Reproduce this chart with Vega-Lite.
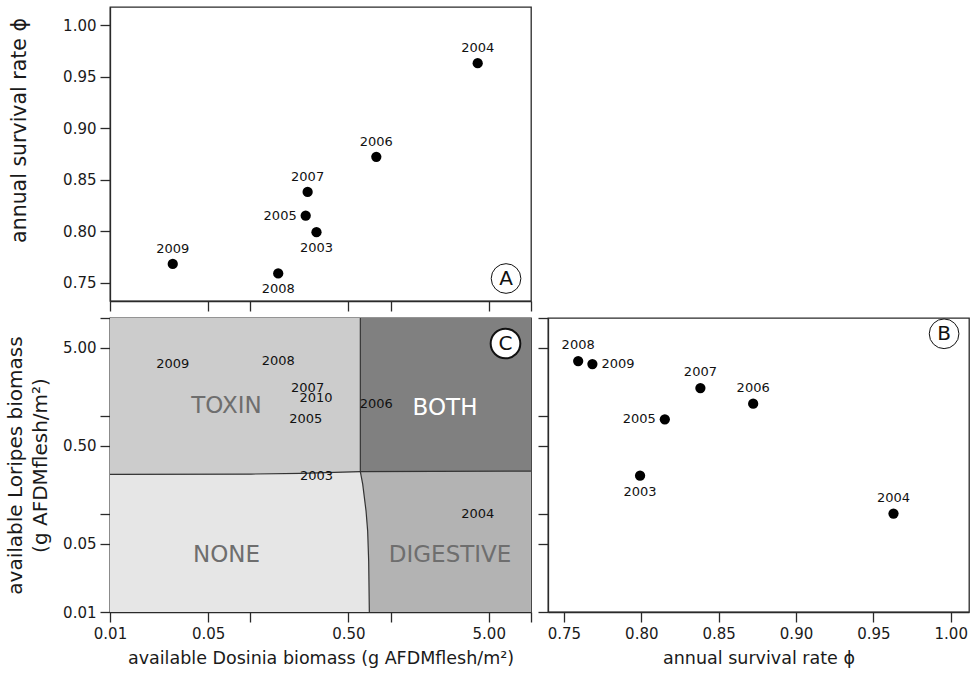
{
  "$schema": "https://vega.github.io/schema/vega-lite/v6.json",
  "padding": {"left": 4, "top": 6, "right": 4, "bottom": 4},
  "background": "white",
  "config": {
    "font": "DejaVu Sans",
    "view": {"stroke": "#2a2a2a", "strokeWidth": 1.3},
    "axis": {
      "grid": false,
      "domainColor": "#2a2a2a", "domainWidth": 1.3,
      "tickColor": "#2a2a2a", "tickWidth": 1.3, "tickSize": 10,
      "labelFont": "DejaVu Sans", "labelFontSize": 15, "labelColor": "#1a1a1a",
      "labelPadding": 4, "labelFlush": false, "labelOverlap": false,
      "titleFont": "DejaVu Sans", "titleFontWeight": "normal", "titleColor": "#1a1a1a", "titleFontSize": 17.5
    },
    "text": {"font": "DejaVu Sans"}
  },
  "datasets": {
    "years": [
      {"year": "2003", "D": 0.296, "L": 0.246, "phi": 0.7992},
      {"year": "2004", "D": 4.17, "L": 0.101, "phi": 0.963},
      {"year": "2005", "D": 0.248, "L": 0.926, "phi": 0.8152},
      {"year": "2006", "D": 0.79, "L": 1.336, "phi": 0.8723},
      {"year": "2007", "D": 0.256, "L": 1.93, "phi": 0.8382},
      {"year": "2008", "D": 0.158, "L": 3.64, "phi": 0.7592},
      {"year": "2009", "D": 0.028, "L": 3.39, "phi": 0.7684},
      {"year": "2010", "D": 0.294, "L": 1.53, "phi": null}
    ],
    "panelTags": [
      {"p": "A", "D": 6.64, "phi": 0.7543},
      {"p": "B", "phi": 0.9957, "L": 6.9},
      {"p": "C", "D": 6.58, "L": 5.49}
    ],
    "regionRects": [
      {"region": "NONE", "D": 0.01, "D2": 10, "L": 0.01, "L2": 10},
      {"region": "BOTH", "D": 0.608, "D2": 10, "L": 0.2743, "L2": 10}
    ],
    "toxinEdge": [
      {"D": 0.01, "L": 0.2532},
      {"D": 0.1011, "L": 0.2556},
      {"D": 0.2296, "L": 0.2593},
      {"D": 0.396, "L": 0.2655},
      {"D": 0.608, "L": 0.2705}
    ],
    "digestiveEdge": [
      {"D": 0.7047, "L": 0.01},
      {"D": 0.6971, "L": 0.0332},
      {"D": 0.6855, "L": 0.0673},
      {"D": 0.6674, "L": 0.1078},
      {"D": 0.632, "L": 0.2018},
      {"D": 0.608, "L": 0.2743}
    ],
    "bnd": [
      {"seg": "h", "seq": 1, "D": 0.01, "L": 0.2532},
      {"seg": "h", "seq": 2, "D": 0.1011, "L": 0.2556},
      {"seg": "h", "seq": 3, "D": 0.2296, "L": 0.2593},
      {"seg": "h", "seq": 4, "D": 0.396, "L": 0.2655},
      {"seg": "h", "seq": 5, "D": 0.608, "L": 0.2705},
      {"seg": "h", "seq": 6, "D": 10, "L": 0.2743},
      {"seg": "v", "seq": 1, "D": 0.608, "L": 10},
      {"seg": "v", "seq": 2, "D": 0.608, "L": 0.2705},
      {"seg": "v", "seq": 3, "D": 0.632, "L": 0.2018},
      {"seg": "v", "seq": 4, "D": 0.6674, "L": 0.1078},
      {"seg": "v", "seq": 5, "D": 0.6855, "L": 0.0673},
      {"seg": "v", "seq": 6, "D": 0.6971, "L": 0.0332},
      {"seg": "v", "seq": 7, "D": 0.7047, "L": 0.01}
    ],
    "regionLabels": [
      {"label": "TOXIN", "D": 0.0676, "L": 1.276},
      {"label": "NONE", "D": 0.0676, "L": 0.0383},
      {"label": "BOTH", "D": 2.44, "L": 1.217},
      {"label": "DIGESTIVE", "D": 2.65, "L": 0.0383}
    ]
  },
  "bounds": "flush",
  "spacing": 17,
  "vconcat": [
    {
      "width": 421,
      "height": 294,
      "encoding": {
        "x": {"field": "D", "type": "quantitative",
          "scale": {"type": "log", "domain": [0.01, 10], "nice": false},
          "axis": {"values": [0.01, 0.05, 0.1, 0.5, 1, 5, 10], "labels": false, "title": null}},
        "y": {"field": "phi", "type": "quantitative",
          "scale": {"domain": [0.7325, 1.0175], "nice": false, "zero": false},
          "axis": {"values": [0.75, 0.8, 0.85, 0.9, 0.95, 1.0], "format": ".2f",
            "title": "annual survival rate ϕ", "titleFontSize": 20.5, "titlePadding": 33, "titleY": 123}}
      },
      "layer": [
        {"data": {"name": "years"},
         "transform": [{"filter": "isValid(datum.phi)"}],
         "mark": {"type": "circle", "size": 105, "color": "#000", "opacity": 1}},
        {"data": {"name": "years"},
         "transform": [{"filter": {"field": "year", "oneOf": ["2004", "2006", "2007", "2009"]}}],
         "mark": {"type": "text", "dy": -15, "fontSize": 13, "color": "#111"},
         "encoding": {"text": {"field": "year"}}},
        {"data": {"name": "years"},
         "transform": [{"filter": {"field": "year", "oneOf": ["2003", "2008"]}}],
         "mark": {"type": "text", "dy": 16, "fontSize": 13, "color": "#111"},
         "encoding": {"text": {"field": "year"}}},
        {"data": {"name": "years"},
         "transform": [{"filter": {"field": "year", "oneOf": ["2005"]}}],
         "mark": {"type": "text", "dx": -9, "align": "right", "fontSize": 13, "color": "#111"},
         "encoding": {"text": {"field": "year"}}},
        {"data": {"name": "panelTags"},
         "transform": [{"filter": "datum.p === 'A'"}],
         "mark": {"type": "point", "shape": "circle", "size": 880, "filled": false, "stroke": "#111", "strokeWidth": 1, "opacity": 1}},
        {"data": {"name": "panelTags"},
         "transform": [{"filter": "datum.p === 'A'"}],
         "mark": {"type": "text", "fontSize": 20, "color": "#111"},
         "encoding": {"text": {"field": "p"}}}
      ]
    },
    {
      "hconcat": [
        {
          "width": 421,
          "height": 294,
          "resolve": {"scale": {"color": "independent"}},
          "encoding": {
            "x": {"field": "D", "type": "quantitative",
              "scale": {"type": "log", "domain": [0.01, 10], "nice": false},
              "axis": {"values": [0.01, 0.05, 0.1, 0.5, 1, 5, 10],
                "labelExpr": "indexof([0.01,0.05,0.5,5], datum.value) >= 0 ? format(datum.value, '.2f') : ''",
                "title": "available Dosinia biomass (g AFDMflesh/m²)", "titlePadding": 8}},
            "y": {"field": "L", "type": "quantitative",
              "scale": {"type": "log", "domain": [0.01, 10], "nice": false},
              "axis": {"values": [0.01, 0.05, 0.1, 0.5, 1, 5, 10],
                "labelExpr": "indexof([0.01,0.05,0.5,5], datum.value) >= 0 ? format(datum.value, '.2f') : ''",
                "title": ["available Loripes biomass", "(g AFDMflesh/m²)"],
                "titleFontSize": 20, "titleLineHeight": 25, "titlePadding": 12}}
          },
          "layer": [
            {"data": {"name": "regionRects"},
             "mark": {"type": "rect"},
             "encoding": {"x2": {"field": "D2"}, "y2": {"field": "L2"},
               "color": {"field": "region", "type": "nominal",
                 "scale": {"domain": ["NONE", "BOTH"], "range": ["#e6e6e6", "#808080"]}, "legend": null}}},
            {"data": {"name": "toxinEdge"},
             "mark": {"type": "area", "orient": "vertical", "color": "#cccccc", "opacity": 1},
             "encoding": {"y2": {"datum": 10}}},
            {"data": {"name": "digestiveEdge"},
             "mark": {"type": "area", "orient": "horizontal", "color": "#b3b3b3", "opacity": 1},
             "encoding": {"x2": {"datum": 10}}},
            {"data": {"name": "bnd"},
             "mark": {"type": "line", "color": "#333", "strokeWidth": 1.2},
             "encoding": {"detail": {"field": "seg"}, "order": {"field": "seq", "type": "quantitative"}}},
            {"data": {"name": "regionLabels"},
             "mark": {"type": "text", "fontSize": 23},
             "encoding": {"text": {"field": "label"},
               "color": {"field": "label", "type": "nominal",
                 "scale": {"domain": ["TOXIN", "NONE", "BOTH", "DIGESTIVE"], "range": ["#6e6e6e", "#6e6e6e", "#ffffff", "#6e6e6e"]}, "legend": null}}},
            {"data": {"name": "years"},
             "mark": {"type": "text", "fontSize": 13, "color": "#111"},
             "encoding": {"text": {"field": "year"}}},
            {"data": {"name": "panelTags"},
             "transform": [{"filter": "datum.p === 'C'"}],
             "mark": {"type": "point", "shape": "circle", "size": 880, "filled": true, "fill": "#ffffff", "stroke": "#111", "strokeWidth": 2, "opacity": 1}},
            {"data": {"name": "panelTags"},
             "transform": [{"filter": "datum.p === 'C'"}],
             "mark": {"type": "text", "fontSize": 20, "color": "#111"},
             "encoding": {"text": {"field": "p"}}}
          ]
        },
        {
          "width": 421,
          "height": 294,
          "encoding": {
            "x": {"field": "phi", "type": "quantitative",
              "scale": {"domain": [0.7397, 1.0118], "nice": false, "zero": false},
              "axis": {"values": [0.75, 0.8, 0.85, 0.9, 0.95, 1.0], "format": ".2f",
                "title": "annual survival rate ϕ", "titlePadding": 8}},
            "y": {"field": "L", "type": "quantitative",
              "scale": {"type": "log", "domain": [0.01, 10], "nice": false},
              "axis": {"values": [0.01, 0.05, 0.1, 0.5, 1, 5, 10], "labels": false, "title": null}}
          },
          "layer": [
            {"data": {"name": "years"},
             "transform": [{"filter": "isValid(datum.phi)"}],
             "mark": {"type": "circle", "size": 105, "color": "#000", "opacity": 1}},
            {"data": {"name": "years"},
             "transform": [{"filter": {"field": "year", "oneOf": ["2004", "2006", "2007", "2008"]}}],
             "mark": {"type": "text", "dy": -16, "fontSize": 13, "color": "#111"},
             "encoding": {"text": {"field": "year"}}},
            {"data": {"name": "years"},
             "transform": [{"filter": {"field": "year", "oneOf": ["2003"]}}],
             "mark": {"type": "text", "dy": 16, "fontSize": 13, "color": "#111"},
             "encoding": {"text": {"field": "year"}}},
            {"data": {"name": "years"},
             "transform": [{"filter": {"field": "year", "oneOf": ["2005"]}}],
             "mark": {"type": "text", "dx": -9, "align": "right", "fontSize": 13, "color": "#111"},
             "encoding": {"text": {"field": "year"}}},
            {"data": {"name": "years"},
             "transform": [{"filter": {"field": "year", "oneOf": ["2009"]}}],
             "mark": {"type": "text", "dx": 9, "align": "left", "fontSize": 13, "color": "#111"},
             "encoding": {"text": {"field": "year"}}},
            {"data": {"name": "panelTags"},
             "transform": [{"filter": "datum.p === 'B'"}],
             "mark": {"type": "point", "shape": "circle", "size": 880, "filled": false, "stroke": "#111", "strokeWidth": 1, "opacity": 1}},
            {"data": {"name": "panelTags"},
             "transform": [{"filter": "datum.p === 'B'"}],
             "mark": {"type": "text", "fontSize": 20, "color": "#111"},
             "encoding": {"text": {"field": "p"}}}
          ]
        }
      ],
      "spacing": 17,
      "bounds": "flush"
    }
  ]
}
